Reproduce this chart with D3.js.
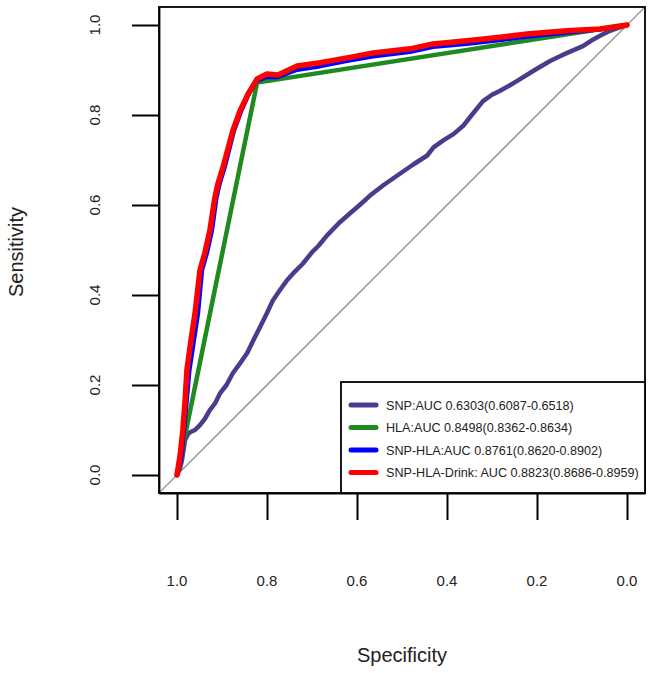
<!DOCTYPE html>
<html><head><meta charset="utf-8">
<script src="https://cdn.jsdelivr.net/npm/d3@7"></script>
<style>body{margin:0;background:#fff}svg{display:block}</style>
</head><body>
<svg id="c" width="653" height="673"></svg>
<script>
const tickValues = [0, 0.2, 0.4, 0.6, 0.8, 1.0];
const tickLabels = ["0.0", "0.2", "0.4", "0.6", "0.8", "1.0"];
const seriesNames = ["SNP:AUC 0.6303(0.6087-0.6518)", "HLA:AUC 0.8498(0.8362-0.8634)", "SNP-HLA:AUC 0.8761(0.8620-0.8902)", "SNP-HLA-Drink: AUC 0.8823(0.8686-0.8959)"];
const seriesColors = ["#463d8c", "#1f8a1f", "#0000ff", "#ff0000"];
// [specificity, sensitivity]
const snp = [[1,0],[0.993,0.016],[0.989,0.033],[0.982,0.078],[0.976,0.09],[0.971,0.095],[0.96,0.1],[0.949,0.111],[0.938,0.125],[0.927,0.144],[0.915,0.16],[0.904,0.182],[0.89,0.2],[0.876,0.226],[0.86,0.248],[0.844,0.271],[0.83,0.3],[0.816,0.328],[0.8,0.36],[0.787,0.388],[0.772,0.41],[0.756,0.432],[0.738,0.452],[0.72,0.47],[0.7,0.495],[0.685,0.51],[0.667,0.532],[0.64,0.56],[0.616,0.581],[0.594,0.6],[0.571,0.621],[0.54,0.645],[0.504,0.67],[0.475,0.69],[0.444,0.71],[0.43,0.728],[0.409,0.743],[0.385,0.758],[0.364,0.776],[0.345,0.8],[0.32,0.831],[0.3,0.845],[0.282,0.854],[0.262,0.865],[0.244,0.876],[0.205,0.9],[0.171,0.92],[0.15,0.93],[0.133,0.938],[0.098,0.953],[0.075,0.968],[0.06,0.976],[0.038,0.987],[0.018,0.994],[0,1]];
const hla = [[1,0],[0.822,0.872],[0,1]];
const snpHla = [[1,0],[0.99,0.04],[0.984,0.1],[0.978,0.166],[0.972,0.233],[0.962,0.299],[0.953,0.359],[0.944,0.455],[0.933,0.494],[0.922,0.543],[0.912,0.616],[0.905,0.647],[0.894,0.683],[0.873,0.765],[0.857,0.809],[0.84,0.847],[0.822,0.876],[0.8,0.884],[0.776,0.884],[0.733,0.9],[0.682,0.908],[0.622,0.92],[0.564,0.93],[0.482,0.94],[0.431,0.951],[0.356,0.958],[0.282,0.966],[0.222,0.974],[0.133,0.983],[0.06,0.99],[0,1]];
const snpHlaDrink = [[1,0],[0.993,0.044],[0.987,0.1],[0.982,0.166],[0.978,0.233],[0.969,0.299],[0.96,0.359],[0.949,0.455],[0.938,0.494],[0.927,0.543],[0.916,0.616],[0.909,0.647],[0.898,0.683],[0.876,0.765],[0.86,0.809],[0.842,0.847],[0.822,0.88],[0.8,0.891],[0.776,0.889],[0.733,0.909],[0.682,0.916],[0.622,0.927],[0.564,0.938],[0.482,0.947],[0.431,0.958],[0.356,0.965],[0.282,0.973],[0.222,0.98],[0.133,0.987],[0.06,0.991],[0,1]];
const allSeries = [snp, hla, snpHla, snpHlaDrink];
const widths = [4.5, 4.5, 4, 5.5];

const svg = d3.select("#c");
const font = "Liberation Sans, Arial, sans-serif";
const x = d3.scaleLinear().domain([1.04, -0.04]).range([159, 645]);
const y = d3.scaleLinear().domain([-0.04, 1.04]).range([493, 7]);

// diagonal
svg.append("line").attr("x1", x(1.04)).attr("y1", y(-0.04)).attr("x2", x(-0.04)).attr("y2", y(1.04))
  .attr("stroke", "#a0a0a0").attr("stroke-width", 1.6);

const line = d3.line().x(d => x(d[0])).y(d => y(d[1]));
allSeries.forEach((s, i) => {
  svg.append("path").datum(s).attr("d", line).attr("fill", "none")
    .attr("stroke", seriesColors[i]).attr("stroke-width", widths[i])
    .attr("stroke-linejoin", "round").attr("stroke-linecap", "round");
});

// box
svg.append("rect").attr("x", x(1.04)).attr("y", y(1.04)).attr("width", x(-0.04) - x(1.04)).attr("height", y(-0.04) - y(1.04))
  .attr("fill", "none").attr("stroke", "#000").attr("stroke-width", 1.8);

// axes
const ax = svg.append("g").attr("transform", `translate(0,${y(-0.04)})`)
  .call(d3.axisBottom(x).tickValues(tickValues).tickSize(27).tickSizeOuter(0).tickFormat(""));
const ay = svg.append("g").attr("transform", `translate(${x(1.04)},0)`)
  .call(d3.axisLeft(y).tickValues(tickValues).tickSize(27).tickSizeOuter(0).tickFormat(""));
[ax, ay].forEach(g => { g.selectAll("line").attr("stroke", "#000").attr("stroke-width", 2); g.select(".domain").attr("stroke", "#000").attr("stroke-width", 1.8); });

svg.append("g").selectAll("text").data(tickValues).join("text")
  .attr("x", d => x(d)).attr("y", 586).attr("text-anchor", "middle")
  .attr("font-family", font).attr("font-size", 15).attr("fill", "#222")
  .text((d, i) => tickLabels[i]);
svg.append("g").selectAll("text").data(tickValues).join("text")
  .attr("transform", d => `translate(100,${y(d)}) rotate(-90)`).attr("text-anchor", "middle")
  .attr("font-family", font).attr("font-size", 15).attr("fill", "#222")
  .text((d, i) => tickLabels[i]);

svg.append("text").attr("x", 402).attr("y", 662).attr("text-anchor", "middle")
  .attr("font-family", font).attr("font-size", 20).attr("fill", "#222").text("Specificity");
svg.append("text").attr("transform", "translate(23,252) rotate(-90)").attr("text-anchor", "middle")
  .attr("font-family", font).attr("font-size", 20).attr("fill", "#222").text("Sensitivity");

// legend
const lg = svg.append("g");
lg.append("rect").attr("x", 341).attr("y", 382).attr("width", x(-0.04) - 341).attr("height", y(-0.04) - 382)
  .attr("fill", "#fff").attr("stroke", "#000").attr("stroke-width", 1.8);
seriesNames.forEach((n, i) => {
  const yy = 405 + i * 22.5;
  lg.append("line").attr("x1", 351).attr("x2", 376).attr("y1", yy).attr("y2", yy)
    .attr("stroke", seriesColors[i]).attr("stroke-width", 5).attr("stroke-linecap", "round");
  lg.append("text").attr("x", 386).attr("y", yy + 4.5).attr("font-family", font).attr("font-size", 12.6).attr("fill", "#222").text(n);
});
</script>
</body></html>
